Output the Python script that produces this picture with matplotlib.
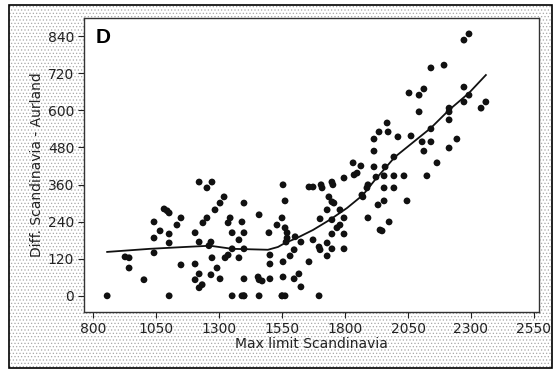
import matplotlib

matplotlib.use("Agg")
import matplotlib.pyplot as plt
from matplotlib.patches import Rectangle

# scatter: max limit Scandinavia vs difference Scandinavia - Aurland
max_limit = [
    856, 927, 943, 943, 1002, 1042, 1042, 1042, 1066, 1082, 1094, 1102, 1102,
    1102, 1102, 1133, 1149, 1149,
    1205, 1205, 1205, 1221, 1221, 1221, 1221, 1233, 1236, 1252, 1252, 1260,
    1268, 1268, 1272, 1272, 1284, 1292, 1304, 1304, 1320, 1324, 1336, 1336,
    1344, 1352, 1352, 1352, 1379, 1379, 1391, 1391, 1399, 1399, 1399, 1399,
    1399, 1399, 1455, 1459, 1459, 1459, 1471, 1498, 1502, 1502, 1502, 1530,
    1550, 1550, 1550, 1554, 1554, 1554,
    1562, 1562, 1562, 1566, 1570, 1570, 1582, 1598, 1598, 1602, 1617, 1625,
    1625, 1657, 1657, 1673, 1673, 1697, 1697, 1701, 1701, 1705, 1709, 1729,
    1729, 1729, 1736, 1748, 1748, 1748, 1748, 1748, 1752, 1756, 1768, 1780,
    1780, 1796, 1796, 1796, 1796, 1836, 1848, 1867, 1871, 1887, 1891, 1891,
    1923, 1931, 1939,
    1832, 1863, 1915, 1915, 1915, 1935, 1947, 1955, 1955, 1955, 1959, 1967,
    1971, 1975, 1994, 1994, 1994, 2010, 2034, 2046, 2054, 2062, 2094, 2094,
    2106, 2113, 2113, 2125, 2141, 2141, 2141, 2165, 2193, 2213, 2213, 2213,
    2213, 2244, 2272, 2272, 2272, 2292, 2292, 2340, 2359,
]
diff = [
    0, 126, 123, 90, 52, 239, 187, 139, 210, 281, 275, 268, 200,
    171, 0, 229, 252, 100,
    204, 103, 52, 368, 174, 71, 26, 36, 236, 349, 252, 162,
    174, 68, 368, 123, 278, 90, 300, 55, 320, 123, 236, 132,
    252, 204, 152, 0, 181, 123, 239, 0, 300, 204, 152, 55,
    0, 0, 61, 262, 52, 0, 48, 204, 132, 103, 55, 229,
    252, 0, 0, 359, 110, 61,
    307, 220, 0, 174, 204, 187, 129, 149, 55, 191, 71, 174,
    29, 352, 110, 352, 181, 158, 0, 249, 149, 359, 349, 278,
    171, 129, 320, 368, 304, 246, 200, 152, 359, 300, 220, 278,
    229, 381, 252, 200, 152, 391, 397, 326, 320, 349, 359, 252,
    384, 294, 213,
    430, 420, 507, 468, 417, 530, 210, 388, 349, 307, 417, 559,
    530, 239, 388, 349, 449, 514, 388, 307, 656, 517, 649, 595,
    498, 669, 468, 388, 737, 540, 498, 430, 746, 607, 595, 569,
    478, 507, 827, 675, 627, 847, 649, 607, 627,
]

# smoothed trend through the cloud
smooth_x = [856, 1026, 1165, 1264, 1352, 1494, 1534, 1562, 1609, 1673, 1740,
            1808, 1871, 1919, 1998, 2141, 2213, 2292, 2359]
smooth_y = [142, 152, 158, 162, 152, 149, 158, 171, 187, 213, 246,
            284, 326, 375, 449, 543, 601, 656, 714]

x_ticks = [800, 1050, 1300, 1550, 1800, 2050, 2300, 2550]
y_ticks = [0, 120, 240, 360, 480, 600, 720, 840]

plt.rcParams["hatch.linewidth"] = 0.5

fig = plt.figure(figsize=(5.58, 3.70), dpi=100)
fig.patch.set_facecolor("white")

# stippled panel background with a black frame
fig.patches.append(Rectangle((0.016, 0.006), 0.973, 0.980, transform=fig.transFigure,
                             facecolor="white", edgecolor="#a8a8a8", hatch=".....",
                             lw=0, zorder=-2))
fig.patches.append(Rectangle((0.016, 0.006), 0.973, 0.980, transform=fig.transFigure,
                             facecolor="none", edgecolor="black", lw=1.2, zorder=-1))

ax = fig.add_axes([0.1505, 0.157, 0.8155, 0.794])
ax.set_facecolor("white")
ax.plot(smooth_x, smooth_y, color="#111111", lw=1.3, zorder=2)
ax.scatter(max_limit, diff, s=24, color="#111111", edgecolors="none", zorder=3)

ax.set_xlim(764, 2570)
ax.set_ylim(-52, 898)
ax.set_xticks(x_ticks)
ax.set_yticks(y_ticks)
ax.tick_params(direction="out", length=4, width=0.8, labelsize=10,
               colors="#222222", top=False, right=False, pad=3)
for s in ax.spines.values():
    s.set_linewidth(1.0)
    s.set_color("#333333")

ax.set_xlabel("Max limit Scandinavia", fontsize=10, color="#222222", labelpad=1)
ax.set_ylabel("Diff. Scandinavia - Aurland", fontsize=10, color="#222222", labelpad=3)
ax.text(0.025, 0.965, "D", transform=ax.transAxes, fontsize=15, fontweight="bold",
        family="Liberation Sans", va="top", ha="left")

fig.savefig("out.png", dpi=100)
